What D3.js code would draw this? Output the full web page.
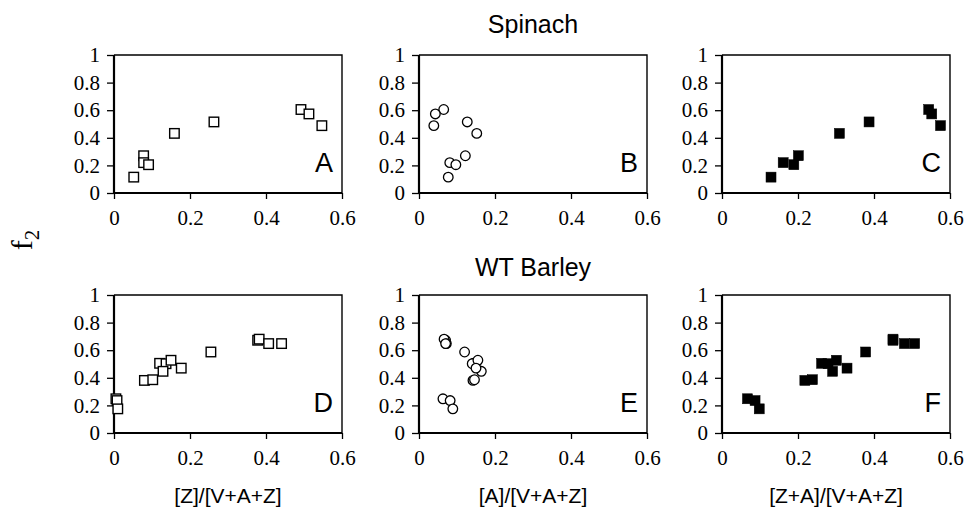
<!DOCTYPE html>
<html>
<head>
<meta charset="utf-8">
<script src="https://cdn.jsdelivr.net/npm/d3@7"></script>
<style>
  body { margin: 0; background: #fff; }
  svg { display: block; }
  .tick text { font-family: "Liberation Serif", "Times New Roman", serif; font-size: 21px; }
</style>
</head>
<body>
<svg id="chart" width="967" height="510"></svg>
<script>
// spinach samples (same order in every panel)
const spinachF2 = [0.115, 0.27, 0.22, 0.205, 0.432, 0.515, 0.605, 0.573, 0.488];
const spinachZ = [0.052, 0.078, 0.078, 0.091, 0.159, 0.263, 0.492, 0.513, 0.547];
const spinachA = [0.077, 0.122, 0.081, 0.097, 0.152, 0.127, 0.065, 0.043, 0.039];
const spinachZA = [0.129, 0.201, 0.161, 0.189, 0.309, 0.387, 0.544, 0.552, 0.575];

// WT barley samples
const barleyF2 = [0.248, 0.235, 0.175, 0.381, 0.386, 0.505, 0.502, 0.447, 0.527, 0.47, 0.587, 0.672, 0.68, 0.648, 0.648];
const barleyZ = [0.005, 0.008, 0.010, 0.080, 0.102, 0.120, 0.137, 0.129, 0.150, 0.177, 0.255, 0.378, 0.382, 0.407, 0.441];
const barleyA = [0.063, 0.082, 0.089, 0.142, 0.146, 0.143, 0.140, 0.164, 0.155, 0.150, 0.120, 0.070, 0.066, 0.072, 0.070];
const barleyZA = [0.067, 0.087, 0.098, 0.218, 0.238, 0.262, 0.279, 0.291, 0.301, 0.329, 0.378, 0.450, 0.450, 0.480, 0.507];

const xTicks = [0, 0.2, 0.4, 0.6];
const yTicks = [0, 0.2, 0.4, 0.6, 0.8, 1];
const rowTitles = ['Spinach', 'WT Barley'];
const xTitles = ['[Z]/[V+A+Z]', '[A]/[V+A+Z]', '[Z+A]/[V+A+Z]'];
const panelLetters = ['A', 'B', 'C', 'D', 'E', 'F'];

const svg = d3.select('#chart');
const serif = '"Liberation Serif", "Times New Roman", serif';
const sans = '"Liberation Sans", Arial, sans-serif';

const colX = [114, 419, 722];
const rowY = [55, 295];
const W = 228, H = 138;

const panels = [
    {xs: spinachZ, ys: spinachF2, mark: 'open'},
    {xs: spinachA, ys: spinachF2, mark: 'circle'},
    {xs: spinachZA, ys: spinachF2, mark: 'filled'},
    {xs: barleyZ, ys: barleyF2, mark: 'open'},
    {xs: barleyA, ys: barleyF2, mark: 'circle'},
    {xs: barleyZA, ys: barleyF2, mark: 'filled'}
];

function drawPanel(p, i) {
    var col = i % 3, row = Math.floor(i / 3);
    var g = svg.append('g')
        .attr('transform', 'translate(' + colX[col] + ',' + rowY[row] + ')');
    var x = d3.scaleLinear().domain([0, 0.6]).range([0, W]);
    var y = d3.scaleLinear().domain([0, 1]).range([H, 0]);

    var yAxis = g.append('g')
        .call(d3.axisLeft(y).tickValues(yTicks).tickSize(7).tickPadding(7).tickSizeOuter(0).tickFormat(d3.format('')));
    var xAxis = g.append('g')
        .attr('transform', 'translate(0,' + H + ')')
        .call(d3.axisBottom(x).tickValues(xTicks).tickSize(6).tickPadding(11).tickSizeOuter(0).tickFormat(d3.format('')));
    [yAxis, xAxis].forEach(function (a) {
        a.attr('font-family', serif).attr('font-size', 21);
        a.select('.domain').remove();
        a.selectAll('line').attr('stroke', '#000').attr('stroke-width', 1.3);
        a.selectAll('text').attr('fill', '#000');
    });

    // frame: thin top/right, heavier left/bottom
    g.append('path')
        .attr('d', 'M0,0H' + W + 'V' + H)
        .attr('fill', 'none').attr('stroke', '#000').attr('stroke-width', 1.4);
    g.append('path')
        .attr('d', 'M0,0V' + H + 'H' + W)
        .attr('fill', 'none').attr('stroke', '#000').attr('stroke-width', 2.2);

    var pts = p.xs.map(function (v, k) { return {x: v, y: p.ys[k]}; });
    if (p.mark === 'circle') {
        g.selectAll('circle.pt').data(pts).enter().append('circle')
            .attr('class', 'pt')
            .attr('cx', function (d) { return x(d.x); })
            .attr('cy', function (d) { return y(d.y); })
            .attr('r', 4.8)
            .attr('fill', '#fff')
            .attr('stroke', '#000')
            .attr('stroke-width', 1.3);
    } else {
        var filled = p.mark === 'filled';
        var side = filled ? 10 : 9.5;
        g.selectAll('rect.pt').data(pts).enter().append('rect')
            .attr('class', 'pt')
            .attr('x', function (d) { return x(d.x) - side / 2; })
            .attr('y', function (d) { return y(d.y) - side / 2; })
            .attr('width', side)
            .attr('height', side)
            .attr('fill', filled ? '#000' : '#fff')
            .attr('stroke', '#000')
            .attr('stroke-width', filled ? 0.5 : 1.4);
    }

    g.append('text')
        .attr('x', W - 9)
        .attr('y', H - 21)
        .attr('text-anchor', 'end')
        .style('font-family', sans)
        .style('font-size', '27px')
        .text(panelLetters[i]);
}

panels.forEach(drawPanel);

// row titles
svg.selectAll('text.rowtitle')
    .data(rowTitles).enter().append('text')
    .attr('class', 'rowtitle')
    .attr('x', 533)
    .attr('y', function (d, i) { return [33, 276][i]; })
    .attr('text-anchor', 'middle')
    .style('font-family', sans)
    .style('font-size', '25px')
    .text(function (d) { return d; });

// x-axis titles
svg.selectAll('text.xtitle')
    .data(xTitles).enter().append('text')
    .attr('class', 'xtitle')
    .attr('x', function (d, i) { return colX[i] + W / 2; })
    .attr('y', 503)
    .attr('text-anchor', 'middle')
    .style('font-family', sans)
    .style('font-size', '21px')
    .text(function (d) { return d; });

// f2 label
var f2 = svg.append('text')
    .attr('transform', 'translate(32,240) rotate(-90)')
    .attr('text-anchor', 'middle')
    .style('font-family', serif)
    .style('font-size', '30px');
f2.append('tspan').text('f');
f2.append('tspan').style('font-size', '21px').attr('dy', 7).text('2');
</script>
</body>
</html>
